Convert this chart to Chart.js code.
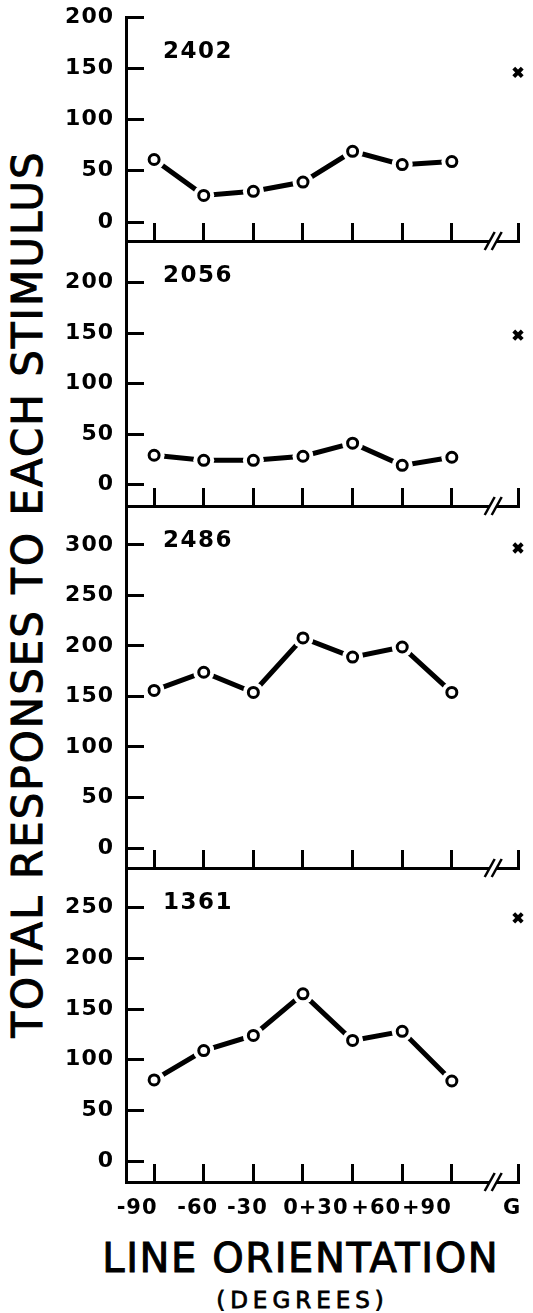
<!DOCTYPE html>
<html><head><meta charset="utf-8">
<script src="https://cdn.jsdelivr.net/npm/chart.js@4.4.0/dist/chart.umd.min.js"></script>
<style>
html,body{margin:0;padding:0;background:#fff;}
body{width:533px;height:1313px;position:relative;overflow:hidden;font-family:"DejaVu Sans",sans-serif;}
canvas{position:absolute;left:0;}
.t{position:absolute;white-space:nowrap;color:#000;line-height:1;-webkit-text-stroke:1px #000;}
</style></head><body>
<div class="t" style="left:28px;top:595px;font-size:42px;letter-spacing:2px;padding-left:2px;transform:translate(-50%,-50%) rotate(-90deg);">TOTAL RESPONSES TO EACH STIMULUS</div>
<div class="t" style="left:300px;top:1238px;font-size:40px;letter-spacing:1.6px;padding-left:1.6px;transform:translateX(-50%);">LINE ORIENTATION</div>
<div class="t" style="left:300px;top:1289px;font-size:23px;letter-spacing:5px;padding-left:5px;-webkit-text-stroke:0.8px #000;transform:translateX(-50%);">(DEGREES)</div>
<canvas id="c0" width="533" height="262" style="top:0px"></canvas>
<canvas id="c1" width="533" height="300" style="top:225px"></canvas>
<canvas id="c2" width="533" height="395" style="top:490px"></canvas>
<canvas id="c3" width="533" height="461" style="top:852px"></canvas>
<script>
// ---- data ----
const orientations = [-90, -60, -30, 0, 30, 60, 90];
const orientationLabels = ['-90', '-60', '-30', '0', '+30', '+60', '+90'];
const gLabel = 'G';
const gPosition = 130;      // G stimulus sits past the axis break
const breakAt = 115;        // axis break between +90 and G
const subjects = ['2402', '2056', '2486', '1361'];
const resp2402 = [61, 26, 30, 39, 69, 56, 59];
const resp2056 = [29, 24, 24, 28, 41, 19, 27];
const resp2486 = [156, 174, 154, 208, 189, 199, 154];
const resp1361 = [80, 109, 124, 165, 119, 128, 79];
const respG = [146, 148, 297, 240];
const yTicks2402 = [0, 50, 100, 150, 200];
const yTicks2056 = [0, 50, 100, 150, 200];
const yTicks2486 = [0, 50, 100, 150, 200, 250, 300];
const yTicks1361 = [0, 50, 100, 150, 200, 250];
const yMin = [-18.5, -21.3, -19.8, -20.7];
const yMax = [200, 241.4, 338.6, 289.2];
const xMin = -107, xMax = 130;

// ---- style ----
const panelPad = [{top:17,bottom:21},{top:16,bottom:19},{top:16,bottom:17},{top:16,bottom:131}];
const xLabelNudgePx = [-17, -6, -6, -12, -29, -26, -25, -6];
const FONT = 'DejaVu Sans';
Chart.defaults.color = '#000';
Chart.defaults.font.family = FONT;

const series = [resp2402, resp2056, resp2486, resp1361];
const yTicks = [yTicks2402, yTicks2056, yTicks2486, yTicks1361];
const allXLabels = [...orientationLabels, gLabel];
const allXValues = [...orientations, gPosition];

const decor = {
  id: 'decor',
  beforeDraw(chart) { chart.ctx.letterSpacing = '1px'; },
  afterDraw(chart, args, opts) {
    const {ctx, chartArea, scales} = chart;
    const bx = scales.x.getPixelForValue(breakAt);
    const by = chartArea.bottom;
    ctx.save();
    ctx.fillStyle = '#fff';
    ctx.fillRect(bx - 3.5, by - 3, 7, 6);
    ctx.strokeStyle = '#000'; ctx.lineWidth = 2.5;
    for (const dx of [-3.5, 3.5]) {
      ctx.beginPath(); ctx.moveTo(bx + dx - 5, by + 9); ctx.lineTo(bx + dx + 5, by - 9); ctx.stroke();
    }
    ctx.fillStyle = '#000'; ctx.textBaseline = 'middle';
    ctx.letterSpacing = '1.5px';
    ctx.font = 'bold 23px "' + FONT + '"';
    ctx.textAlign = 'left';
    ctx.fillText(opts.label, chartArea.left + 37, chartArea.top + 35);
    if (opts.xLabels) {
      ctx.letterSpacing = '1px';
      ctx.font = 'bold 21px "' + FONT + '"';
      ctx.textAlign = 'center';
      allXValues.forEach((v, i) => {
        ctx.fillText(allXLabels[i], scales.x.getPixelForValue(v) + xLabelNudgePx[i], by + 27);
      });
    }
    ctx.restore();
  }
};

const tickFont = {family: FONT, weight: 'bold', size: 22};

subjects.forEach((id, k) => {
  const pts = orientations.map((o, i) => ({x: o, y: series[k][i]}));
  const scales = {
    x: {
      type: 'linear', min: xMin, max: xMax, position: 'bottom',
      afterBuildTicks: s => { s.ticks = allXValues.map(v => ({value: v})); },
      afterFit: s => { s.height = 0; s.paddingLeft = 0; s.paddingRight = 0; },
      ticks: {display: false},
      grid: {drawOnChartArea: false, drawTicks: true, tickLength: -18, color: '#000', lineWidth: 3},
      border: {display: true, color: '#000', width: 3}
    },
    y: {
      type: 'linear', min: yMin[k], max: yMax[k],
      afterBuildTicks: s => { s.ticks = yTicks[k].map(v => ({value: v})); },
      afterFit: s => { s.width = 126; s.paddingTop = 0; s.paddingBottom = 0; },
      ticks: {padding: 30, color: '#000', font: tickFont},
      grid: {drawOnChartArea: false, drawTicks: true, tickLength: -18, color: '#000', lineWidth: 3},
      border: {display: true, color: '#000', width: 3}
    }
  };
  new Chart(document.getElementById('c' + k), {
    type: 'line',
    data: {
      datasets: [
        {data: pts, borderColor: '#000', borderWidth: 5, pointRadius: 10.5, pointBorderWidth: 0,
         pointBackgroundColor: '#fff', pointBorderColor: '#fff', order: 3, clip: false, tension: 0},
        {data: pts, showLine: false, pointRadius: 5, pointBorderWidth: 3,
         pointBorderColor: '#000', pointBackgroundColor: '#fff', order: 2, clip: false},
        {data: [{x: gPosition, y: respG[k]}], showLine: false, pointStyle: 'crossRot', pointRadius: 6,
         pointBorderWidth: 4, pointBorderColor: '#000', order: 1, clip: false}
      ]
    },
    options: {
      responsive: false, animation: false, events: [],
      layout: {padding: {top: panelPad[k].top, bottom: panelPad[k].bottom, left: 0, right: 15}},
      plugins: {legend: {display: false}, tooltip: {enabled: false},
                decor: {label: id, xLabels: k === subjects.length - 1}},
      scales
    },
    plugins: [decor]
  });
});
</script>
</body></html>
